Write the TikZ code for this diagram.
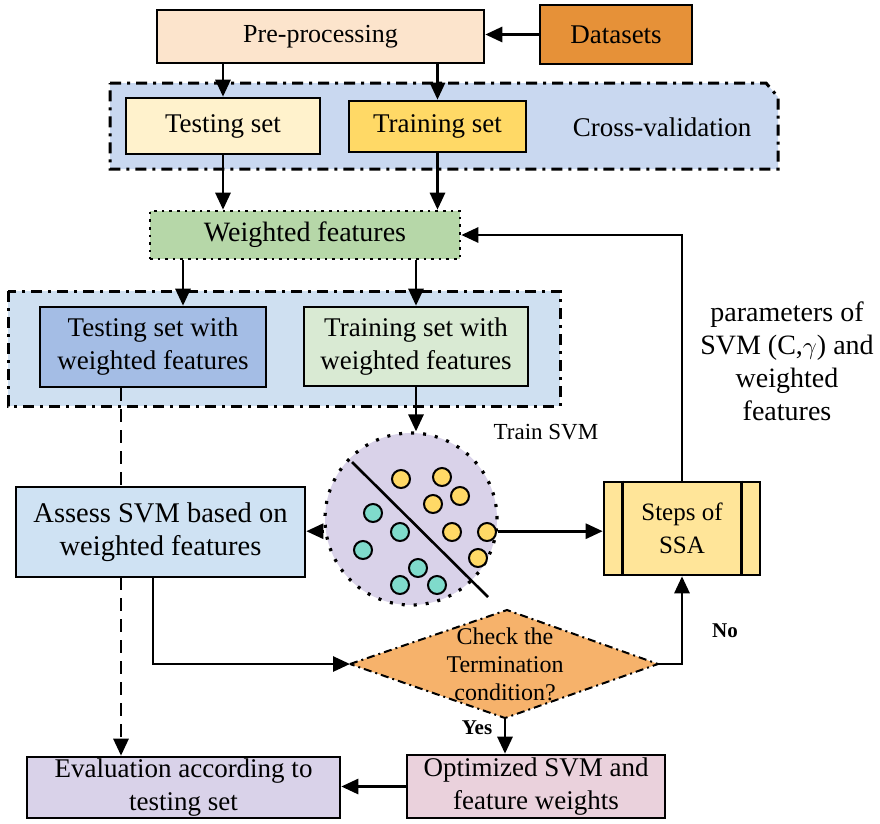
\documentclass[tikz,border=0pt]{standalone}
\usepackage{fontspec}
\setmainfont{Liberation Serif}
\usetikzlibrary{arrows.meta,calc}
\definecolor{cPre}{HTML}{FCE4CC}
\definecolor{cData}{HTML}{E69138}
\definecolor{cCV}{HTML}{C9D8F0}
\definecolor{cTest}{HTML}{FFF2CC}
\definecolor{cTrain}{HTML}{FFD966}
\definecolor{cWF}{HTML}{B6D7A8}
\definecolor{cReg}{HTML}{CFE0F1}
\definecolor{cTestWF}{HTML}{A4BDE5}
\definecolor{cTrainWF}{HTML}{D9EAD3}
\definecolor{cSVM}{HTML}{D9D2E9}
\definecolor{cAssess}{HTML}{CFE2F3}
\definecolor{cSSA}{HTML}{FFE599}
\definecolor{cChk}{HTML}{F6B26B}
\definecolor{cOpt}{HTML}{EAD1DC}
\definecolor{cEval}{HTML}{D9D2E9}
\definecolor{cCyan}{HTML}{7FDBCB}
\newcommand{\fs}[1]{\fontsize{#1}{33}\selectfont}
\begin{document}
\begin{tikzpicture}[x=1pt,y=-1pt,
  txt/.style={font=\fs{27}, align=center, inner sep=0pt},
  box/.style={txt, draw=black, line width=2.6pt, minimum width=#1},
  arr/.style={line width=2.8pt, -{Triangle[length=17pt,width=15pt]}},
  regionline/.style={line width=3pt, dash pattern=on 11pt off 6pt on 3pt off 6pt},
  dotpt/.style={draw=black, line width=2pt, circle, minimum size=18pt, inner sep=0pt},
  lbl/.style={font=\fontsize{21}{24}\selectfont\bfseries, inner sep=0pt}]
\useasboundingbox (0,0) rectangle (880,823);

% grouped regions
\path[fill=cCV, regionline, draw=black]
  (110,83) -- (766,83) -- (778,97) -- (778,169) -- (110,169) -- cycle;
\path[fill=cReg, regionline, draw=black]
  (8,291) rectangle (560,406);

% top row
\node[box=327pt, minimum height=53pt, fill=cPre, font=\fs{26}] (pre) at (320.5,36.5) {Pre-processing};
\node[box=152pt, minimum height=59pt, fill=cData] (data) at (616,34.5) {Datasets};
\node[box=194pt, minimum height=56pt, fill=cTest] (testset) at (223,126) {Testing set};
\node[box=177pt, minimum height=51pt, fill=cTrain] (trainset) at (437.5,126.5) {Training set};
\node[txt, font=\fs{27}] (cv) at (662,127) {Cross-validation};

\node[txt, font=\fs{28}, fill=cWF, draw=black, line width=2.6pt, dash pattern=on 2.6pt off 5pt,
      minimum width=310pt, minimum height=48pt] (wf) at (305,235) {Weighted features};

\node[box=226pt, minimum height=80pt, fill=cTestWF] (testwf) at (153,347)
  {Testing set with\\weighted features};
\node[box=224pt, minimum height=79pt, fill=cTrainWF] (trainwf) at (416,346.5)
  {Training set with\\weighted features};

% SVM circle with two classes of samples
\node[circle, fill=cSVM, draw=black, line width=3.2pt, dash pattern=on 3pt off 9pt,
      minimum size=172pt, inner sep=0pt] (svm) at (411,519) {};
\node[font=\fontsize{23}{26}\selectfont, inner sep=0pt] (trsvm) at (546,432) {Train SVM};
\draw[line width=2.6pt] (352,462) -- (488,597);
\foreach \i/\px/\py in {1/401/479,2/442/477,3/460/496,4/433/504,5/452/532,6/487/532,7/478/558}
  \node[dotpt, fill=cTrain] (y\i) at (\px,\py) {};
\foreach \i/\px/\py in {1/373/513,2/400/532,3/363/550,4/418/568,5/400/585,6/437/585}
  \node[dotpt, fill=cCyan] (c\i) at (\px,\py) {};

\node[box=156pt, minimum height=93pt, fill=cSSA, font=\fs{25}] (ssa) at (682,528.5) {Steps of\\SSA};
\draw[line width=2.6pt] ([xshift=20pt]ssa.north west) -- ([xshift=20pt]ssa.south west);
\draw[line width=2.6pt] ([xshift=-20pt]ssa.north east) -- ([xshift=-20pt]ssa.south east);

% termination check
\coordinate (dL) at (350,664);
\coordinate (dR) at (658,664);
\coordinate (dT) at (507,610);
\coordinate (dB) at (505,718);
\path[fill=cChk, draw=black, line width=2pt, dash pattern=on 8pt off 4pt on 2pt off 4pt]
  (dL) -- (dT) -- (dR) -- (dB) -- cycle;
\node[txt, font=\fontsize{24}{28}\selectfont] (chk) at (505,664) {Check the\\Termination\\condition?};

\node[box=258pt, minimum height=63pt, fill=cOpt] (opt) at (536,786.5)
  {Optimized SVM and\\feature weights};
\node[box=313pt, minimum height=61pt, fill=cEval] (eval) at (183.5,787.5)
  {Evaluation according to\\testing set};

% dashed evaluation path, passing behind the assessment box
\coordinate (xa) at (121,0);
\draw[arr, dash pattern=on 13pt off 8pt] (xa |- testwf.south) -- (xa |- eval.north);

\node[box=289pt, minimum height=90pt, fill=cAssess, font=\fs{28.5}] (assess) at (160.5,532)
  {Assess SVM based on\\weighted features};

\node[txt, font=\fs{28}] (param) at (787,361) {parameters of\\SVM (C,$\gamma$) and\\weighted\\features};
\node[lbl] (no) at (725,631) {No};
\node[lbl] (yes) at (477,728) {Yes};

% connectors
\draw[arr] (data.west) -- (data.west -| pre.east);
\draw[arr] (testset.north |- pre.south) -- (testset.north);
\draw[arr] (trainset.north |- pre.south) -- (trainset.north);
\draw[arr] (testset.south) -- (testset.south |- wf.north);
\draw[arr] (trainset.south) -- (trainset.south |- wf.north);
\coordinate (xb) at (183,0);
\draw[arr] (xb |- wf.south) -- (xb |- testwf.north);
\draw[arr] (trainwf.north |- wf.south) -- (trainwf.north);
\draw[arr] (trainwf.south) -- (trainwf.south |- svm.north);
\draw[arr] (svm.188) -- (svm.188 -| assess.east);
\draw[arr] (svm.-8) -- (svm.-8 -| ssa.west);
\draw[arr] (ssa.north) |- (wf.east);
\coordinate (xc) at (153,0);
\draw[arr] (xc |- assess.south) |- (dL);
\draw[arr] (dR) -| (ssa.south);
\draw[arr] (dB) -- (dB |- opt.north);
\draw[arr] (opt.west) -- (opt.west -| eval.east);
\end{tikzpicture}
\end{document}
